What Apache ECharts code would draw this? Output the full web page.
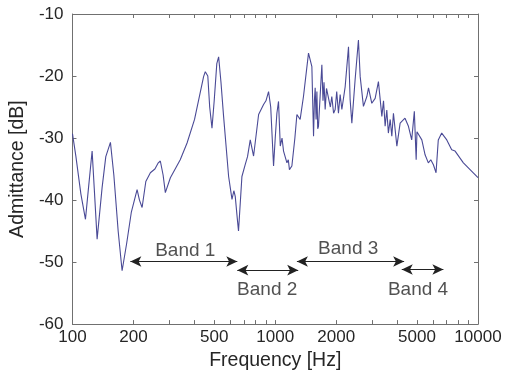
<!DOCTYPE html>
<html>
<head>
<meta charset="utf-8">
<script src="https://cdn.jsdelivr.net/npm/echarts@6/dist/echarts.min.js"></script>
<style>
  html, body { margin: 0; padding: 0; background: #fff; }
  #chart { width: 506px; height: 376px; }
</style>
</head>
<body>
<div id="chart"></div>
<script>
// Measured admittance spectrum
const freqHz = [
  100, 104, 110, 115.9, 120, 125, 128, 132.3, 140, 146, 153.9, 160, 168, 175.7, 185, 195,
  208.3, 214, 220.5, 230, 242.2, 255, 265, 271.2, 280, 287.1, 304, 340, 367.4, 400,
  443.3, 451.9, 465, 475, 487.6, 500, 515, 525.8, 540, 556.3, 589, 612, 625, 635, 650,
  659, 685, 711, 730, 753, 782, 828, 876, 900, 927, 950, 981, 1000, 1019, 1038, 1059,
  1080, 1099, 1142, 1160, 1175, 1208, 1250, 1279, 1327, 1378, 1459, 1516, 1530, 1545,
  1560, 1574, 1590, 1605, 1620, 1634, 1698, 1720, 1740, 1763, 1790, 1831, 1870, 1901,
  1940, 1975, 2010, 2050, 2090, 2131, 2213, 2298, 2341, 2387, 2477, 2572, 2624, 2723,
  2831, 2884, 2994, 3110, 3228, 3356, 3420, 3483, 3550, 3614, 3690, 3758, 3828, 3980,
  4130, 4365, 4539, 4710, 4853, 4955, 5000, 5082, 5284, 5483, 5690, 5850, 6026, 6210,
  6370, 6622, 7015, 7418, 7709, 8472, 10000
];
const admittanceDb = [
  -29.3, -33, -39, -43.1, -38, -32.1, -38, -46.3, -38, -33, -30.7, -36, -45, -51.4, -47, -42,
  -38.3, -40, -41.2, -37, -35.6, -35, -34, -33.7, -36, -38.8, -36.4, -33.5, -30.8, -27,
  -20.1, -19.3, -20, -25, -28.4, -24, -18, -16.9, -21, -26.5, -36.2, -39.9, -38.5, -39.4, -43,
  -45.0, -36.2, -34.3, -33, -30.3, -32.9, -26.2, -24.6, -24, -22.5, -25, -34.5, -30, -26.0, -24.1, -31.3,
  -30, -32.1, -34.0, -33.5, -35.1, -34.5, -30, -26.2, -27.0, -23.3, -16.3, -18.5, -24, -29.7,
  -24, -21.9, -27, -22.5, -28.5, -28.1, -18.2, -24, -21, -25.4, -22, -22.2, -25, -23.3,
  -26, -25.4, -22.5, -26.0, -23, -25.4, -21.7, -15.3, -23.8, -27.6, -20.6, -14.2, -20.1, -24.9,
  -23.3, -21.9, -24.4, -23.6, -20.9, -26.5, -24, -28.1, -25.5, -29.2, -27, -29.7, -26.0, -31.3,
  -27.6, -26.8, -28.1, -30.3, -25.7, -33.5, -29, -28.9, -30.3, -32.7, -34.0, -33.5, -34.3, -35.6,
  -30.3, -29.2, -30.3, -31.9, -32.1, -34.0, -36.4
];

// Frequency bands (double-headed arrows) and their captions
const bandNames = ['Band 1', 'Band 2', 'Band 3', 'Band 4'];
const bandStartHz = [193, 650, 1279, 4207];
const bandEndHz = [650, 1298, 4322, 6750];
const bandLevelDb = [-49.9, -51.3, -49.9, -51.2];
const bandLabelHz = [360, 913, 2290, 5060];
const bandLabelDb = [-48.2, -54.4, -47.8, -54.5];

// Axis ticks
const xTickLabels = [100, 200, 500, 1000, 2000, 5000, 10000];
const xTicks = [100, 200, 300, 400, 500, 600, 700, 800, 900, 1000, 2000, 3000, 4000,
  5000, 6000, 7000, 8000, 9000, 10000];

const axisGray = '#707070';
const textColor = '#262626';
const font = 'Liberation Sans, Arial, sans-serif';

const chart = echarts.init(document.getElementById('chart'), null, { renderer: 'canvas' });

const curve = freqHz.map((f, i) => [f, admittanceDb[i]]);

const bandLines = bandNames.map((n, i) => [
  { coord: [bandStartHz[i], bandLevelDb[i]] },
  { coord: [bandEndHz[i], bandLevelDb[i]] }
]);
const bandCaptions = bandNames.map((n, i) => ({ name: n, value: [bandLabelHz[i], bandLabelDb[i]] }));

function logAxis(pos, showLabels) {
  return {
    type: 'log',
    logBase: 10,
    position: pos,
    min: 100,
    max: 10000,
    name: showLabels ? 'Frequency [Hz]' : '',
    nameLocation: 'middle',
    nameGap: 26,
    nameTextStyle: { fontFamily: font, fontSize: 19.5, color: textColor },
    axisLine: { show: true, onZero: false, lineStyle: { color: axisGray, width: 1 } },
    axisTick: { show: true, inside: true, length: 4, customValues: xTicks, lineStyle: { color: axisGray } },
    minorTick: { show: false },
    axisLabel: {
      show: showLabels,
      customValues: xTickLabels,
      margin: 5,
      fontFamily: font, fontSize: 17, color: textColor,
      formatter: v => String(Math.round(v))
    },
    splitLine: { show: false }
  };
}

function valAxis(pos, showLabels) {
  return {
    type: 'value',
    position: pos,
    min: -60,
    max: -10,
    interval: 10,
    name: showLabels ? 'Admittance [dB]' : '',
    nameLocation: 'middle',
    nameGap: 39,
    nameTextStyle: { fontFamily: font, fontSize: 19.5, color: textColor },
    axisLine: { show: true, lineStyle: { color: axisGray, width: 1 } },
    axisTick: { show: true, inside: true, length: 4, lineStyle: { color: axisGray } },
    axisLabel: { show: showLabels, margin: 9, fontFamily: font, fontSize: 17, color: textColor },
    splitLine: { show: false }
  };
}

chart.setOption({
  animation: false,
  backgroundColor: '#fff',
  grid: { left: 72, right: 28, top: 14, bottom: 51 },
  xAxis: [logAxis('bottom', true), logAxis('top', false)],
  yAxis: [valAxis('left', true), valAxis('right', false)],
  series: [
    {
      type: 'line',
      data: curve,
      showSymbol: false,
      lineStyle: { color: '#4a4a96', width: 1.1 },
      markLine: {
        silent: true,
        symbol: ['arrow', 'arrow'],
        symbolSize: [8, 11],
        lineStyle: { color: '#222', width: 1, type: 'solid' },
        label: { show: false },
        data: bandLines
      }
    },
    {
      type: 'scatter',
      data: bandCaptions,
      symbolSize: 0,
      label: {
        show: true,
        position: 'inside',
        formatter: p => p.name,
        fontFamily: font,
        fontSize: 19,
        color: textColor
      }
    }
  ]
});
</script>
</body>
</html>
